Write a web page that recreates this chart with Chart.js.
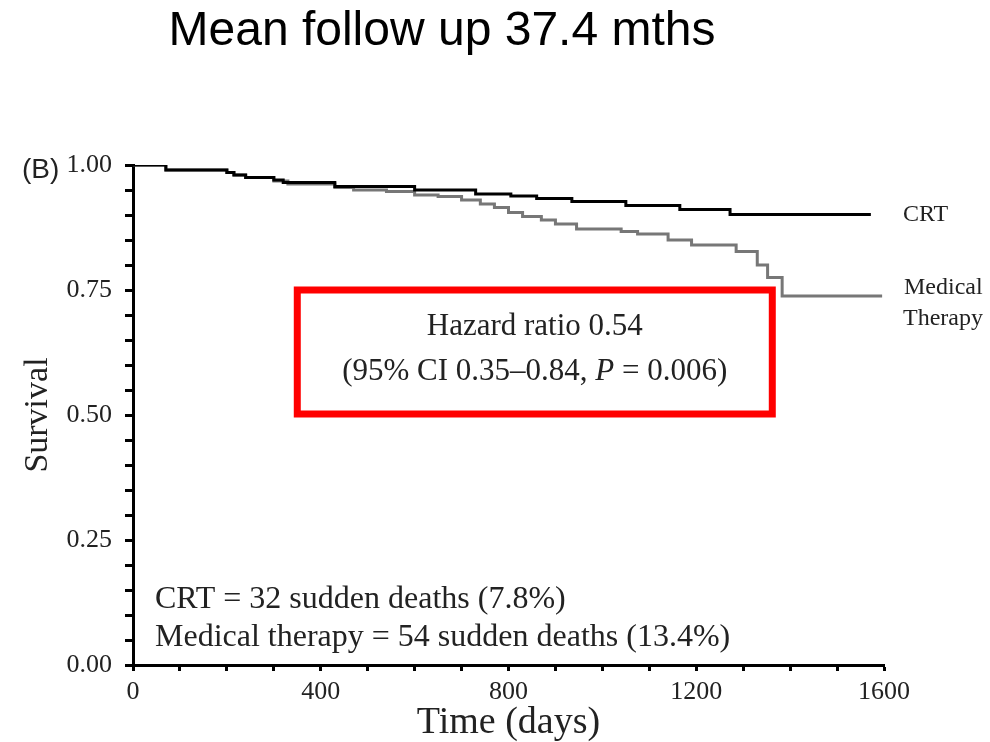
<!DOCTYPE html>
<html>
<head>
<meta charset="utf-8">
<script src="https://cdn.jsdelivr.net/npm/chart.js@4/dist/chart.umd.min.js"></script>
<style>
  html, body { margin: 0; padding: 0; background: #fff; }
  canvas { display: block; }
</style>
</head>
<body>
<canvas id="kmChart" width="990" height="742"></canvas>
<script>
// Kaplan-Meier steps (day, survival after the drop)
const crtDays = [0, 70, 200, 215, 240, 300, 320, 430, 600, 730, 805, 860, 935, 1050, 1165, 1272, 1572];
const crtSurv = [1.0, 0.990, 0.985, 0.980, 0.975, 0.970, 0.965, 0.957, 0.950, 0.942, 0.938, 0.933, 0.927, 0.919, 0.911, 0.901, 0.901];

const medDays = [0, 70, 200, 215, 240, 300, 330, 430, 470, 540, 600, 650, 700, 740, 770, 800, 830, 870, 900, 945, 1040, 1075, 1140, 1190, 1285, 1330, 1352, 1383, 1596];
const medSurv = [1.0, 0.990, 0.985, 0.980, 0.975, 0.968, 0.962, 0.955, 0.950, 0.947, 0.940, 0.937, 0.930, 0.922, 0.915, 0.905, 0.897, 0.890, 0.882, 0.872, 0.867, 0.862, 0.850, 0.840, 0.827, 0.800, 0.775, 0.738, 0.738];

const xTickLabels = [0, 400, 800, 1200, 1600];
const yTickLabels = [0, 0.25, 0.5, 0.75, 1.0];

const toPoints = (xs, ys) => xs.map((x, i) => ({ x: x, y: ys[i] }));

const serif = "'Liberation Serif', 'Times New Roman', serif";
const sans = "'Liberation Sans', Arial, sans-serif";

// titles, annotation box and curve labels
const extras = {
  id: "extras",
  afterDraw(chart) {
    const ctx = chart.ctx;
    const xs = chart.scales.x;
    const ys = chart.scales.y;
    ctx.save();
    ctx.fillStyle = "#000";
    ctx.textBaseline = "middle";

    ctx.font = "48px " + sans;
    ctx.textAlign = "center";
    ctx.fillText("Mean follow up 37.4 mths", 442, 32);

    ctx.font = "28px " + sans;
    ctx.textAlign = "left";
    ctx.fillStyle = "#222";
    ctx.fillText("(B)", 22, 170);

    // hazard ratio box
    const bx1 = xs.getPixelForValue(350), bx2 = xs.getPixelForValue(1362);
    const by1 = ys.getPixelForValue(0.75), by2 = ys.getPixelForValue(0.502);
    ctx.strokeStyle = "#ff0000";
    ctx.lineWidth = 7;
    ctx.strokeRect(bx1, by1, bx2 - bx1, by2 - by1);

    ctx.fillStyle = "#222";
    ctx.textAlign = "center";
    ctx.font = "31px " + serif;
    const cx = (bx1 + bx2) / 2;
    ctx.fillText("Hazard ratio 0.54", cx, 327);
    const pre = "(95% CI 0.35\u20130.84, ";
    const pItal = "P";
    const post = " = 0.006)";
    ctx.font = "31px " + serif;
    const w1 = ctx.measureText(pre).width, w3 = ctx.measureText(post).width;
    ctx.font = "italic 31px " + serif;
    const w2 = ctx.measureText(pItal).width;
    let sx = cx - (w1 + w2 + w3) / 2;
    ctx.textAlign = "left";
    ctx.font = "31px " + serif;
    ctx.fillText(pre, sx, 372);
    ctx.font = "italic 31px " + serif;
    ctx.fillText(pItal, sx + w1, 372);
    ctx.font = "31px " + serif;
    ctx.fillText(post, sx + w1 + w2, 372);

    // deaths summary
    ctx.font = "32px " + serif;
    ctx.fillText("CRT = 32 sudden deaths (7.8%)", 155, 600);
    ctx.fillText("Medical therapy = 54 sudden deaths (13.4%)", 155, 638);

    // curve labels
    ctx.font = "24px " + serif;
    ctx.fillText("CRT", 903, 215);
    ctx.fillText("Medical", 904, 288);
    ctx.fillText("Therapy", 903, 319);
    ctx.restore();
  }
};

new Chart(document.getElementById("kmChart"), {
  type: "line",
  data: {
    datasets: [
      {
        label: "CRT",
        data: toPoints(crtDays, crtSurv),
        borderColor: "#000",
        borderWidth: 3,
        stepped: true,
        pointRadius: 0,
        fill: false,
      },
      {
        label: "Medical Therapy",
        data: toPoints(medDays, medSurv),
        borderColor: "#777",
        borderWidth: 3,
        stepped: true,
        pointRadius: 0,
        fill: false,
      },
    ],
  },
  options: {
    responsive: false,
    animation: false,
    devicePixelRatio: 1,
    layout: { padding: { left: 0, right: 106, top: 165, bottom: 0 } },
    plugins: {
      legend: { display: false },
      tooltip: { enabled: false },
    },
    scales: {
      x: {
        type: "linear",
        min: 0,
        max: 1600,
        afterFit: (scale) => { scale.height = 77; },
        border: { display: true, color: "#000", width: 3 },
        grid: { drawOnChartArea: false, drawTicks: true, tickLength: 6, tickWidth: 3, tickColor: "#000" },
        ticks: {
          stepSize: 100,
          autoSkip: false,
          maxRotation: 0,
          minRotation: 0,
          padding: 6,
          color: "#222",
          font: { family: serif, size: 26 },
          callback: (v) => (xTickLabels.includes(v) ? String(v) : ""),
        },
        title: {
          display: true,
          text: "Time (days)",
          color: "#222",
          font: { family: serif, size: 38, lineHeight: 1.0 },
          padding: { top: 0, bottom: 0 },
        },
      },
      y: {
        min: 0,
        max: 1,
        afterFit: (scale) => { scale.width = 133; },
        border: { display: true, color: "#000", width: 3 },
        grid: { drawOnChartArea: false, drawTicks: true, tickLength: 8, tickWidth: 3, tickColor: "#000" },
        ticks: {
          stepSize: 0.05,
          autoSkip: false,
          padding: 13,
          color: "#222",
          font: { family: serif, size: 26 },
          callback: (v) => {
            const hit = yTickLabels.find((t) => Math.abs(t - v) < 1e-6);
            return hit === undefined ? "" : hit.toFixed(2);
          },
        },
        title: {
          display: true,
          text: "Survival",
          color: "#222",
          font: { family: serif, size: 34 },
          padding: { top: 18, bottom: 0 },
        },
      },
    },
  },
  plugins: [extras],
});
</script>
</body>
</html>
